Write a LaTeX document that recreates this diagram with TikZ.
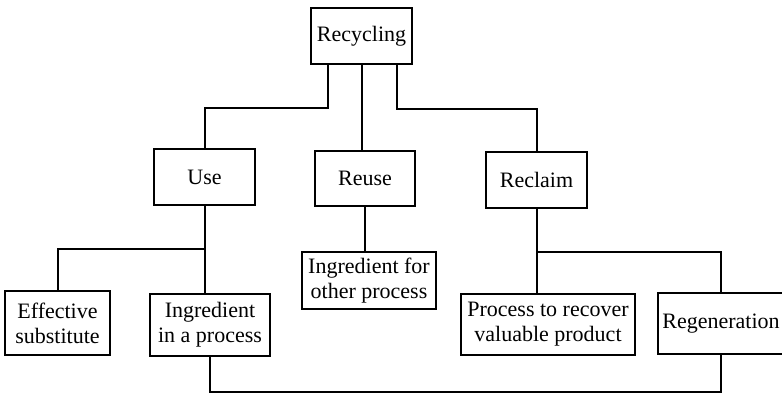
\documentclass[tikz,border=0pt]{standalone}
\usepackage{fontspec}
\setmainfont{Liberation Serif}
\usepackage{tikz}
\usetikzlibrary{calc, positioning}

\begin{document}
\begin{tikzpicture}[
        x=0.5pt, y=-0.5pt,
        font=\fontsize{11}{12.5}\selectfont,
        box/.style={draw=black, line width=1pt, fill=white, align=center, inner sep=2pt, minimum width=50.5pt, minimum height=28pt},
        lowbox/.style={box, minimum height=31pt},
        link/.style={draw=black, line width=1pt}
    ]
    \useasboundingbox (0,0) rectangle (782,393);

    % ================= Top =================
    \node[box] (rec) at (361.5, 36) {Recycling};

    % ================= Middle row =================
    \node[box] (use) at (204.5, 177) {Use};
    \node[box, minimum width=50pt, minimum height=27.5pt] (reuse) at (365, 178.5) {Reuse};
    \node[box] (reclaim) at (536.5, 180) {Reclaim};

    % ================= Bottom row =================
    \node[lowbox, minimum width=52.5pt, minimum height=32pt] (eff) at (57.5, 323) {Effective\\substitute};
    \node[lowbox, minimum width=60pt] (ingp) at (210, 324.5) {Ingredient\\in a process};
    \node[box, minimum width=67pt, minimum height=28.5pt] (ingo) at (369, 280.5) {Ingredient for\\other process};
    \node[lowbox, minimum width=87pt, minimum height=30.5pt] (proc) at (548, 324.5) {Process to recover\\valuable product};
    \node[lowbox, minimum width=63pt, minimum height=30.5pt] (regen) at (721, 323.5) {Regeneration};

    % Recycling -> Use / Reuse / Reclaim
    \draw[link] ([xshift=-16.75pt]rec.south) -- ++(0, 43) -| (use.north);
    \draw[link] (rec.south) -- (rec.south |- reuse.north);
    \draw[link] ([xshift=17.75pt]rec.south) -- ++(0, 44) -| (reclaim.north);

    % Use -> Effective substitute / Ingredient in a process
    \coordinate (usej) at ([yshift=-21.5pt]use.south);
    \draw[link] (use.south) -- (use.south |- ingp.north);
    \draw[link] (eff.north) |- (usej);

    % Reuse -> Ingredient for other process
    \draw[link] (reuse.south) -- (reuse.south |- ingo.north);

    % Reclaim -> Process to recover / Regeneration
    \coordinate (reclj) at ([yshift=-21.5pt]reclaim.south);
    \draw[link] (reclaim.south) -- (reclaim.south |- proc.north);
    \draw[link] (reclj) -| (regen.north);

    % Ingredient in a process -- Regeneration
    \draw[link] (ingp.south) -- ++(0, 35) -| (regen.south);

\end{tikzpicture}
\end{document}
